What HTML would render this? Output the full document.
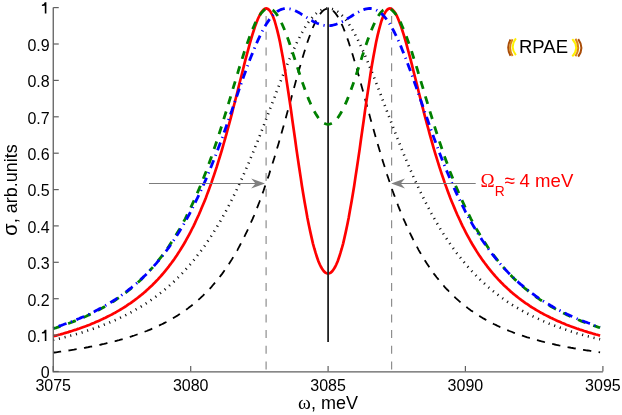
<!DOCTYPE html>
<html><head><meta charset="utf-8"><style>
html,body{margin:0;padding:0;background:#fff;}
body{width:622px;height:415px;overflow:hidden;}
svg{display:block;will-change:transform;}
text{font-family:"Liberation Sans",sans-serif;}
</style></head><body>
<svg width="622" height="415" viewBox="0 0 622 415">
<rect width="622" height="415" fill="#fff"/>
<line x1="266.1" y1="369.5" x2="266.1" y2="7.6" stroke="#8e8e8e" stroke-width="1.2" stroke-dasharray="8 7.7"/>
<line x1="391.6" y1="369.5" x2="391.6" y2="7.6" stroke="#8e8e8e" stroke-width="1.2" stroke-dasharray="8 7.7"/>
<path d="M53.2,352.7 L54.6,352.5 L56.0,352.3 L57.4,352.1 L58.7,351.9 L60.1,351.7 L61.5,351.5 L62.9,351.3 L64.2,351.1 L65.6,350.9 L67.0,350.7 L68.4,350.5 L69.7,350.3 L71.1,350.1 L72.5,349.9 L73.9,349.7 L75.2,349.4 L76.6,349.2 L78.0,349.0 L79.4,348.8 L80.7,348.5 L82.1,348.3 L83.5,348.0 L84.9,347.8 L86.2,347.5 L87.6,347.3 L89.0,347.0 L90.3,346.7 L91.7,346.5 L93.1,346.2 L94.5,345.9 L95.8,345.6 L97.2,345.4 L98.6,345.1 L100.0,344.8 L101.3,344.5 L102.7,344.2 L104.1,343.9 L105.5,343.5 L106.8,343.2 L108.2,342.9 L109.6,342.6 L111.0,342.2 L112.3,341.9 L113.7,341.5 L115.1,341.2 L116.5,340.8 L117.8,340.4 L119.2,340.1 L120.6,339.7 L122.0,339.3 L123.3,338.9 L124.7,338.5 L126.1,338.1 L127.4,337.7 L128.8,337.3 L130.2,336.8 L131.6,336.4 L132.9,335.9 L134.3,335.5 L135.7,335.0 L137.1,334.5 L138.4,334.1 L139.8,333.6 L141.2,333.1 L142.6,332.6 L143.9,332.0 L145.3,331.5 L146.7,331.0 L148.1,330.4 L149.4,329.9 L150.8,329.3 L152.2,328.7 L153.6,328.1 L154.9,327.5 L156.3,326.9 L157.7,326.2 L159.0,325.6 L160.4,324.9 L161.8,324.3 L163.2,323.6 L164.5,322.9 L165.9,322.2 L167.3,321.4 L168.7,320.7 L170.0,319.9 L171.4,319.1 L172.8,318.4 L174.2,317.5 L175.5,316.7 L176.9,315.9 L178.3,315.0 L179.7,314.1 L181.0,313.2 L182.4,312.3 L183.8,311.3 L185.2,310.4 L186.5,309.4 L187.9,308.4 L189.3,307.3 L190.7,306.3 L192.0,305.2 L193.4,304.1 L194.8,303.0 L196.1,301.8 L197.5,300.6 L198.9,299.4 L200.3,298.2 L201.6,296.9 L203.0,295.6 L204.4,294.2 L205.8,292.9 L207.1,291.5 L208.5,290.0 L209.9,288.6 L211.3,287.1 L212.6,285.5 L214.0,283.9 L215.4,282.3 L216.8,280.7 L218.1,278.9 L219.5,277.2 L220.9,275.4 L222.3,273.6 L223.6,271.7 L225.0,269.8 L226.4,267.8 L227.7,265.8 L229.1,263.7 L230.5,261.6 L231.9,259.4 L233.2,257.1 L234.6,254.8 L236.0,252.5 L237.4,250.1 L238.7,247.6 L240.1,245.0 L241.5,242.4 L242.9,239.7 L244.2,237.0 L245.6,234.2 L247.0,231.3 L248.4,228.4 L249.7,225.3 L251.1,222.2 L252.5,219.1 L253.9,215.8 L255.2,212.5 L256.6,209.1 L258.0,205.6 L259.4,202.0 L260.7,198.3 L262.1,194.6 L263.5,190.8 L264.8,186.9 L266.2,182.9 L267.6,178.8 L269.0,174.7 L270.3,170.4 L271.7,166.1 L273.1,161.7 L274.5,157.3 L275.8,152.7 L277.2,148.1 L278.6,143.5 L280.0,138.7 L281.3,133.9 L282.7,129.1 L284.1,124.2 L285.5,119.2 L286.8,114.2 L288.2,109.2 L289.6,104.2 L291.0,99.2 L292.3,94.1 L293.7,89.1 L295.1,84.1 L296.4,79.1 L297.8,74.2 L299.2,69.3 L300.6,64.6 L301.9,59.9 L303.3,55.3 L304.7,50.8 L306.1,46.5 L307.4,42.3 L308.8,38.3 L310.2,34.5 L311.6,30.9 L312.9,27.5 L314.3,24.4 L315.7,21.5 L317.1,18.8 L318.4,16.5 L319.8,14.4 L321.2,12.6 L322.6,11.1 L323.9,10.0 L325.3,9.2 L326.7,8.7 L328.1,8.5 L329.4,8.7 L330.8,9.2 L332.2,10.0 L333.5,11.1 L334.9,12.6 L336.3,14.4 L337.7,16.5 L339.0,18.8 L340.4,21.5 L341.8,24.4 L343.2,27.5 L344.5,30.9 L345.9,34.5 L347.3,38.3 L348.7,42.3 L350.0,46.5 L351.4,50.8 L352.8,55.3 L354.2,59.9 L355.5,64.6 L356.9,69.3 L358.3,74.2 L359.7,79.1 L361.0,84.1 L362.4,89.1 L363.8,94.1 L365.1,99.2 L366.5,104.2 L367.9,109.2 L369.3,114.2 L370.6,119.2 L372.0,124.2 L373.4,129.1 L374.8,133.9 L376.1,138.7 L377.5,143.5 L378.9,148.1 L380.3,152.7 L381.6,157.3 L383.0,161.7 L384.4,166.1 L385.8,170.4 L387.1,174.7 L388.5,178.8 L389.9,182.9 L391.3,186.9 L392.6,190.8 L394.0,194.6 L395.4,198.3 L396.8,202.0 L398.1,205.6 L399.5,209.1 L400.9,212.5 L402.2,215.8 L403.6,219.1 L405.0,222.2 L406.4,225.3 L407.7,228.4 L409.1,231.3 L410.5,234.2 L411.9,237.0 L413.2,239.7 L414.6,242.4 L416.0,245.0 L417.4,247.6 L418.7,250.1 L420.1,252.5 L421.5,254.8 L422.9,257.1 L424.2,259.4 L425.6,261.6 L427.0,263.7 L428.4,265.8 L429.7,267.8 L431.1,269.8 L432.5,271.7 L433.8,273.6 L435.2,275.4 L436.6,277.2 L438.0,278.9 L439.3,280.7 L440.7,282.3 L442.1,283.9 L443.5,285.5 L444.8,287.1 L446.2,288.6 L447.6,290.0 L449.0,291.5 L450.3,292.9 L451.7,294.2 L453.1,295.6 L454.5,296.9 L455.8,298.2 L457.2,299.4 L458.6,300.6 L460.0,301.8 L461.3,303.0 L462.7,304.1 L464.1,305.2 L465.4,306.3 L466.8,307.3 L468.2,308.4 L469.6,309.4 L470.9,310.4 L472.3,311.3 L473.7,312.3 L475.1,313.2 L476.4,314.1 L477.8,315.0 L479.2,315.9 L480.6,316.7 L481.9,317.5 L483.3,318.4 L484.7,319.1 L486.1,319.9 L487.4,320.7 L488.8,321.4 L490.2,322.2 L491.6,322.9 L492.9,323.6 L494.3,324.3 L495.7,324.9 L497.1,325.6 L498.4,326.2 L499.8,326.9 L501.2,327.5 L502.5,328.1 L503.9,328.7 L505.3,329.3 L506.7,329.9 L508.0,330.4 L509.4,331.0 L510.8,331.5 L512.2,332.0 L513.5,332.6 L514.9,333.1 L516.3,333.6 L517.7,334.1 L519.0,334.5 L520.4,335.0 L521.8,335.5 L523.2,335.9 L524.5,336.4 L525.9,336.8 L527.3,337.3 L528.7,337.7 L530.0,338.1 L531.4,338.5 L532.8,338.9 L534.2,339.3 L535.5,339.7 L536.9,340.1 L538.3,340.4 L539.6,340.8 L541.0,341.2 L542.4,341.5 L543.8,341.9 L545.1,342.2 L546.5,342.6 L547.9,342.9 L549.3,343.2 L550.6,343.5 L552.0,343.9 L553.4,344.2 L554.8,344.5 L556.1,344.8 L557.5,345.1 L558.9,345.4 L560.3,345.6 L561.6,345.9 L563.0,346.2 L564.4,346.5 L565.8,346.7 L567.1,347.0 L568.5,347.3 L569.9,347.5 L571.2,347.8 L572.6,348.0 L574.0,348.3 L575.4,348.5 L576.7,348.8 L578.1,349.0 L579.5,349.2 L580.9,349.4 L582.2,349.7 L583.6,349.9 L585.0,350.1 L586.4,350.3 L587.7,350.5 L589.1,350.7 L590.5,350.9 L591.9,351.1 L593.2,351.3 L594.6,351.5 L596.0,351.7 L597.4,351.9 L598.7,352.1 L600.1,352.3" fill="none" stroke="#000" stroke-width="1.8" stroke-dasharray="8.3 7.415" stroke-dashoffset="0.29"/>
<path d="M53.2,340.0 L54.6,339.7 L56.0,339.3 L57.4,339.0 L58.7,338.7 L60.1,338.4 L61.5,338.0 L62.9,337.7 L64.2,337.3 L65.6,337.0 L67.0,336.6 L68.4,336.3 L69.7,335.9 L71.1,335.5 L72.5,335.2 L73.9,334.8 L75.2,334.4 L76.6,334.0 L78.0,333.6 L79.4,333.2 L80.7,332.8 L82.1,332.4 L83.5,331.9 L84.9,331.5 L86.2,331.1 L87.6,330.6 L89.0,330.2 L90.3,329.7 L91.7,329.3 L93.1,328.8 L94.5,328.3 L95.8,327.8 L97.2,327.3 L98.6,326.8 L100.0,326.3 L101.3,325.8 L102.7,325.3 L104.1,324.7 L105.5,324.2 L106.8,323.7 L108.2,323.1 L109.6,322.5 L111.0,321.9 L112.3,321.4 L113.7,320.8 L115.1,320.2 L116.5,319.5 L117.8,318.9 L119.2,318.3 L120.6,317.6 L122.0,317.0 L123.3,316.3 L124.7,315.6 L126.1,314.9 L127.4,314.2 L128.8,313.5 L130.2,312.8 L131.6,312.0 L132.9,311.3 L134.3,310.5 L135.7,309.7 L137.1,308.9 L138.4,308.1 L139.8,307.3 L141.2,306.5 L142.6,305.6 L143.9,304.8 L145.3,303.9 L146.7,303.0 L148.1,302.1 L149.4,301.2 L150.8,300.2 L152.2,299.3 L153.6,298.3 L154.9,297.3 L156.3,296.3 L157.7,295.2 L159.0,294.2 L160.4,293.1 L161.8,292.0 L163.2,290.9 L164.5,289.8 L165.9,288.6 L167.3,287.5 L168.7,286.3 L170.0,285.1 L171.4,283.8 L172.8,282.6 L174.2,281.3 L175.5,280.0 L176.9,278.6 L178.3,277.3 L179.7,275.9 L181.0,274.5 L182.4,273.1 L183.8,271.6 L185.2,270.1 L186.5,268.6 L187.9,267.1 L189.3,265.5 L190.7,263.9 L192.0,262.3 L193.4,260.6 L194.8,258.9 L196.1,257.2 L197.5,255.4 L198.9,253.7 L200.3,251.8 L201.6,250.0 L203.0,248.1 L204.4,246.2 L205.8,244.2 L207.1,242.2 L208.5,240.2 L209.9,238.1 L211.3,236.0 L212.6,233.9 L214.0,231.7 L215.4,229.5 L216.8,227.2 L218.1,224.9 L219.5,222.6 L220.9,220.2 L222.3,217.7 L223.6,215.3 L225.0,212.8 L226.4,210.2 L227.7,207.6 L229.1,205.0 L230.5,202.3 L231.9,199.6 L233.2,196.8 L234.6,194.0 L236.0,191.2 L237.4,188.3 L238.7,185.4 L240.1,182.4 L241.5,179.4 L242.9,176.3 L244.2,173.2 L245.6,170.1 L247.0,166.9 L248.4,163.7 L249.7,160.4 L251.1,157.1 L252.5,153.8 L253.9,150.5 L255.2,147.1 L256.6,143.6 L258.0,140.2 L259.4,136.7 L260.7,133.2 L262.1,129.7 L263.5,126.1 L264.8,122.5 L266.2,118.9 L267.6,115.3 L269.0,111.7 L270.3,108.1 L271.7,104.5 L273.1,100.9 L274.5,97.3 L275.8,93.6 L277.2,90.0 L278.6,86.5 L280.0,82.9 L281.3,79.4 L282.7,75.9 L284.1,72.4 L285.5,69.0 L286.8,65.6 L288.2,62.2 L289.6,58.9 L291.0,55.7 L292.3,52.6 L293.7,49.5 L295.1,46.5 L296.4,43.5 L297.8,40.7 L299.2,38.0 L300.6,35.3 L301.9,32.8 L303.3,30.3 L304.7,28.0 L306.1,25.8 L307.4,23.7 L308.8,21.7 L310.2,19.9 L311.6,18.2 L312.9,16.6 L314.3,15.2 L315.7,13.9 L317.1,12.7 L318.4,11.7 L319.8,10.8 L321.2,10.1 L322.6,9.5 L323.9,9.1 L325.3,8.7 L326.7,8.6 L328.1,8.5 L329.4,8.6 L330.8,8.7 L332.2,9.1 L333.5,9.5 L334.9,10.1 L336.3,10.8 L337.7,11.7 L339.0,12.7 L340.4,13.9 L341.8,15.2 L343.2,16.6 L344.5,18.2 L345.9,19.9 L347.3,21.7 L348.7,23.7 L350.0,25.8 L351.4,28.0 L352.8,30.3 L354.2,32.8 L355.5,35.3 L356.9,38.0 L358.3,40.7 L359.7,43.5 L361.0,46.5 L362.4,49.5 L363.8,52.6 L365.1,55.7 L366.5,58.9 L367.9,62.2 L369.3,65.6 L370.6,69.0 L372.0,72.4 L373.4,75.9 L374.8,79.4 L376.1,82.9 L377.5,86.5 L378.9,90.0 L380.3,93.6 L381.6,97.3 L383.0,100.9 L384.4,104.5 L385.8,108.1 L387.1,111.7 L388.5,115.3 L389.9,118.9 L391.3,122.5 L392.6,126.1 L394.0,129.7 L395.4,133.2 L396.8,136.7 L398.1,140.2 L399.5,143.6 L400.9,147.1 L402.2,150.5 L403.6,153.8 L405.0,157.1 L406.4,160.4 L407.7,163.7 L409.1,166.9 L410.5,170.1 L411.9,173.2 L413.2,176.3 L414.6,179.4 L416.0,182.4 L417.4,185.4 L418.7,188.3 L420.1,191.2 L421.5,194.0 L422.9,196.8 L424.2,199.6 L425.6,202.3 L427.0,205.0 L428.4,207.6 L429.7,210.2 L431.1,212.8 L432.5,215.3 L433.8,217.7 L435.2,220.2 L436.6,222.6 L438.0,224.9 L439.3,227.2 L440.7,229.5 L442.1,231.7 L443.5,233.9 L444.8,236.0 L446.2,238.1 L447.6,240.2 L449.0,242.2 L450.3,244.2 L451.7,246.2 L453.1,248.1 L454.5,250.0 L455.8,251.8 L457.2,253.7 L458.6,255.4 L460.0,257.2 L461.3,258.9 L462.7,260.6 L464.1,262.3 L465.4,263.9 L466.8,265.5 L468.2,267.1 L469.6,268.6 L470.9,270.1 L472.3,271.6 L473.7,273.1 L475.1,274.5 L476.4,275.9 L477.8,277.3 L479.2,278.6 L480.6,280.0 L481.9,281.3 L483.3,282.6 L484.7,283.8 L486.1,285.1 L487.4,286.3 L488.8,287.5 L490.2,288.6 L491.6,289.8 L492.9,290.9 L494.3,292.0 L495.7,293.1 L497.1,294.2 L498.4,295.2 L499.8,296.3 L501.2,297.3 L502.5,298.3 L503.9,299.3 L505.3,300.2 L506.7,301.2 L508.0,302.1 L509.4,303.0 L510.8,303.9 L512.2,304.8 L513.5,305.6 L514.9,306.5 L516.3,307.3 L517.7,308.1 L519.0,308.9 L520.4,309.7 L521.8,310.5 L523.2,311.3 L524.5,312.0 L525.9,312.8 L527.3,313.5 L528.7,314.2 L530.0,314.9 L531.4,315.6 L532.8,316.3 L534.2,317.0 L535.5,317.6 L536.9,318.3 L538.3,318.9 L539.6,319.5 L541.0,320.2 L542.4,320.8 L543.8,321.4 L545.1,321.9 L546.5,322.5 L547.9,323.1 L549.3,323.7 L550.6,324.2 L552.0,324.7 L553.4,325.3 L554.8,325.8 L556.1,326.3 L557.5,326.8 L558.9,327.3 L560.3,327.8 L561.6,328.3 L563.0,328.8 L564.4,329.3 L565.8,329.7 L567.1,330.2 L568.5,330.6 L569.9,331.1 L571.2,331.5 L572.6,331.9 L574.0,332.4 L575.4,332.8 L576.7,333.2 L578.1,333.6 L579.5,334.0 L580.9,334.4 L582.2,334.8 L583.6,335.2 L585.0,335.5 L586.4,335.9 L587.7,336.3 L589.1,336.6 L590.5,337.0 L591.9,337.3 L593.2,337.7 L594.6,338.0 L596.0,338.4 L597.4,338.7 L598.7,339.0 L600.1,339.3" fill="none" stroke="#111" stroke-width="2.6" stroke-dasharray="1.1 4.786" stroke-dashoffset="0.09"/>
<path d="M53.2,336.3 L54.6,335.9 L56.0,335.6 L57.4,335.2 L58.7,334.8 L60.1,334.5 L61.5,334.1 L62.9,333.7 L64.2,333.3 L65.6,332.9 L67.0,332.5 L68.4,332.1 L69.7,331.6 L71.1,331.2 L72.5,330.8 L73.9,330.3 L75.2,329.9 L76.6,329.4 L78.0,328.9 L79.4,328.5 L80.7,328.0 L82.1,327.5 L83.5,327.0 L84.9,326.5 L86.2,326.0 L87.6,325.4 L89.0,324.9 L90.3,324.4 L91.7,323.8 L93.1,323.2 L94.5,322.7 L95.8,322.1 L97.2,321.5 L98.6,320.9 L100.0,320.3 L101.3,319.6 L102.7,319.0 L104.1,318.3 L105.5,317.7 L106.8,317.0 L108.2,316.3 L109.6,315.6 L111.0,314.9 L112.3,314.2 L113.7,313.4 L115.1,312.7 L116.5,311.9 L117.8,311.1 L119.2,310.3 L120.6,309.5 L122.0,308.7 L123.3,307.8 L124.7,307.0 L126.1,306.1 L127.4,305.2 L128.8,304.2 L130.2,303.3 L131.6,302.3 L132.9,301.4 L134.3,300.4 L135.7,299.3 L137.1,298.3 L138.4,297.2 L139.8,296.1 L141.2,295.0 L142.6,293.9 L143.9,292.7 L145.3,291.6 L146.7,290.3 L148.1,289.1 L149.4,287.8 L150.8,286.5 L152.2,285.2 L153.6,283.8 L154.9,282.5 L156.3,281.0 L157.7,279.6 L159.0,278.1 L160.4,276.6 L161.8,275.0 L163.2,273.4 L164.5,271.8 L165.9,270.1 L167.3,268.4 L168.7,266.6 L170.0,264.8 L171.4,263.0 L172.8,261.1 L174.2,259.2 L175.5,257.2 L176.9,255.2 L178.3,253.1 L179.7,250.9 L181.0,248.7 L182.4,246.5 L183.8,244.2 L185.2,241.8 L186.5,239.4 L187.9,236.9 L189.3,234.3 L190.7,231.7 L192.0,229.0 L193.4,226.3 L194.8,223.4 L196.1,220.5 L197.5,217.5 L198.9,214.5 L200.3,211.3 L201.6,208.1 L203.0,204.8 L204.4,201.4 L205.8,197.9 L207.1,194.4 L208.5,190.7 L209.9,186.9 L211.3,183.1 L212.6,179.1 L214.0,175.1 L215.4,170.9 L216.8,166.7 L218.1,162.4 L219.5,157.9 L220.9,153.4 L222.3,148.7 L223.6,144.0 L225.0,139.2 L226.4,134.2 L227.7,129.2 L229.1,124.1 L230.5,118.9 L231.9,113.7 L233.2,108.3 L234.6,103.0 L236.0,97.5 L237.4,92.0 L238.7,86.5 L240.1,81.0 L241.5,75.5 L242.9,70.0 L244.2,64.6 L245.6,59.2 L247.0,54.0 L248.4,48.8 L249.7,43.8 L251.1,39.0 L252.5,34.3 L253.9,30.0 L255.2,25.9 L256.6,22.2 L258.0,18.8 L259.4,15.8 L260.7,13.3 L262.1,11.3 L263.5,9.8 L264.8,8.8 L266.2,8.5 L267.6,8.8 L269.0,9.8 L270.3,11.4 L271.7,13.8 L273.1,16.8 L274.5,20.5 L275.8,25.0 L277.2,30.1 L278.6,35.9 L280.0,42.3 L281.3,49.3 L282.7,56.8 L284.1,64.8 L285.5,73.2 L286.8,82.1 L288.2,91.2 L289.6,100.6 L291.0,110.1 L292.3,119.8 L293.7,129.5 L295.1,139.2 L296.4,148.9 L297.8,158.4 L299.2,167.7 L300.6,176.9 L301.9,185.7 L303.3,194.3 L304.7,202.5 L306.1,210.3 L307.4,217.8 L308.8,224.8 L310.2,231.4 L311.6,237.6 L312.9,243.3 L314.3,248.5 L315.7,253.2 L317.1,257.5 L318.4,261.3 L319.8,264.5 L321.2,267.3 L322.6,269.6 L323.9,271.3 L325.3,272.6 L326.7,273.3 L328.1,273.6 L329.4,273.3 L330.8,272.6 L332.2,271.3 L333.5,269.6 L334.9,267.3 L336.3,264.5 L337.7,261.3 L339.0,257.5 L340.4,253.2 L341.8,248.5 L343.2,243.3 L344.5,237.6 L345.9,231.4 L347.3,224.8 L348.7,217.8 L350.0,210.3 L351.4,202.5 L352.8,194.3 L354.2,185.7 L355.5,176.9 L356.9,167.7 L358.3,158.4 L359.7,148.9 L361.0,139.2 L362.4,129.5 L363.8,119.8 L365.1,110.1 L366.5,100.6 L367.9,91.2 L369.3,82.1 L370.6,73.2 L372.0,64.8 L373.4,56.8 L374.8,49.3 L376.1,42.3 L377.5,35.9 L378.9,30.1 L380.3,25.0 L381.6,20.5 L383.0,16.8 L384.4,13.8 L385.8,11.4 L387.1,9.8 L388.5,8.8 L389.9,8.5 L391.3,8.8 L392.6,9.8 L394.0,11.3 L395.4,13.3 L396.8,15.8 L398.1,18.8 L399.5,22.2 L400.9,25.9 L402.2,30.0 L403.6,34.3 L405.0,39.0 L406.4,43.8 L407.7,48.8 L409.1,54.0 L410.5,59.2 L411.9,64.6 L413.2,70.0 L414.6,75.5 L416.0,81.0 L417.4,86.5 L418.7,92.0 L420.1,97.5 L421.5,103.0 L422.9,108.3 L424.2,113.7 L425.6,118.9 L427.0,124.1 L428.4,129.2 L429.7,134.2 L431.1,139.2 L432.5,144.0 L433.8,148.7 L435.2,153.4 L436.6,157.9 L438.0,162.4 L439.3,166.7 L440.7,170.9 L442.1,175.1 L443.5,179.1 L444.8,183.1 L446.2,186.9 L447.6,190.7 L449.0,194.4 L450.3,197.9 L451.7,201.4 L453.1,204.8 L454.5,208.1 L455.8,211.3 L457.2,214.5 L458.6,217.5 L460.0,220.5 L461.3,223.4 L462.7,226.3 L464.1,229.0 L465.4,231.7 L466.8,234.3 L468.2,236.9 L469.6,239.4 L470.9,241.8 L472.3,244.2 L473.7,246.5 L475.1,248.7 L476.4,250.9 L477.8,253.1 L479.2,255.2 L480.6,257.2 L481.9,259.2 L483.3,261.1 L484.7,263.0 L486.1,264.8 L487.4,266.6 L488.8,268.4 L490.2,270.1 L491.6,271.8 L492.9,273.4 L494.3,275.0 L495.7,276.6 L497.1,278.1 L498.4,279.6 L499.8,281.0 L501.2,282.5 L502.5,283.8 L503.9,285.2 L505.3,286.5 L506.7,287.8 L508.0,289.1 L509.4,290.3 L510.8,291.6 L512.2,292.7 L513.5,293.9 L514.9,295.0 L516.3,296.1 L517.7,297.2 L519.0,298.3 L520.4,299.3 L521.8,300.4 L523.2,301.4 L524.5,302.3 L525.9,303.3 L527.3,304.2 L528.7,305.2 L530.0,306.1 L531.4,307.0 L532.8,307.8 L534.2,308.7 L535.5,309.5 L536.9,310.3 L538.3,311.1 L539.6,311.9 L541.0,312.7 L542.4,313.4 L543.8,314.2 L545.1,314.9 L546.5,315.6 L547.9,316.3 L549.3,317.0 L550.6,317.7 L552.0,318.3 L553.4,319.0 L554.8,319.6 L556.1,320.3 L557.5,320.9 L558.9,321.5 L560.3,322.1 L561.6,322.7 L563.0,323.2 L564.4,323.8 L565.8,324.4 L567.1,324.9 L568.5,325.4 L569.9,326.0 L571.2,326.5 L572.6,327.0 L574.0,327.5 L575.4,328.0 L576.7,328.5 L578.1,328.9 L579.5,329.4 L580.9,329.9 L582.2,330.3 L583.6,330.8 L585.0,331.2 L586.4,331.6 L587.7,332.1 L589.1,332.5 L590.5,332.9 L591.9,333.3 L593.2,333.7 L594.6,334.1 L596.0,334.5 L597.4,334.8 L598.7,335.2 L600.1,335.6" fill="none" stroke="#ff0000" stroke-width="2.7"/>
<line x1="328.1" y1="342.0" x2="328.1" y2="7.6" stroke="#222" stroke-width="1.8"/>
<path d="M53.2,328.7 L54.6,328.2 L56.0,327.8 L57.4,327.3 L58.7,326.9 L60.1,326.4 L61.5,326.0 L62.9,325.5 L64.2,325.0 L65.6,324.5 L67.0,324.0 L68.4,323.5 L69.7,323.0 L71.1,322.5 L72.5,322.0 L73.9,321.4 L75.2,320.9 L76.6,320.3 L78.0,319.8 L79.4,319.2 L80.7,318.6 L82.1,318.0 L83.5,317.4 L84.9,316.8 L86.2,316.2 L87.6,315.5 L89.0,314.9 L90.3,314.2 L91.7,313.6 L93.1,312.9 L94.5,312.2 L95.8,311.5 L97.2,310.8 L98.6,310.1 L100.0,309.3 L101.3,308.6 L102.7,307.8 L104.1,307.0 L105.5,306.2 L106.8,305.4 L108.2,304.6 L109.6,303.8 L111.0,302.9 L112.3,302.0 L113.7,301.2 L115.1,300.3 L116.5,299.3 L117.8,298.4 L119.2,297.5 L120.6,296.5 L122.0,295.5 L123.3,294.5 L124.7,293.5 L126.1,292.4 L127.4,291.3 L128.8,290.2 L130.2,289.1 L131.6,288.0 L132.9,286.8 L134.3,285.7 L135.7,284.4 L137.1,283.2 L138.4,282.0 L139.8,280.7 L141.2,279.4 L142.6,278.0 L143.9,276.7 L145.3,275.3 L146.7,273.9 L148.1,272.4 L149.4,270.9" fill="none" stroke="#008000" stroke-width="2.8" stroke-dasharray="8.2 8.1" stroke-dashoffset="0.51"/>
<path d="M149.4,270.9 L150.8,269.4 L152.2,267.9 L153.6,266.3 L154.9,264.7 L156.3,263.1 L157.7,261.4 L159.0,259.7 L160.4,257.9 L161.8,256.1 L163.2,254.3 L164.5,252.4 L165.9,250.5 L167.3,248.6 L168.7,246.6 L170.0,244.5 L171.4,242.4 L172.8,240.3 L174.2,238.1 L175.5,235.9 L176.9,233.6 L178.3,231.3 L179.7,228.9 L181.0,226.4 L182.4,223.9 L183.8,221.4 L185.2,218.8 L186.5,216.1 L187.9,213.4 L189.3,210.6 L190.6,207.8 L192.0,204.9 L193.4,201.9 L194.8,198.9 L196.1,195.8 L197.5,192.6 L198.9,189.4 L200.3,186.1 L201.6,182.7 L203.0,179.3 L204.4,175.7 L205.8,172.2 L207.1,168.5 L208.5,164.8 L209.9,161.0 L211.3,157.2 L212.6,153.2 L214.0,149.3 L215.4,145.2 L216.8,141.1 L218.1,136.9 L219.5,132.7 L220.9,128.4 L222.3,124.0 L223.6,119.6 L225.0,115.2 L226.4,110.7 L227.7,106.2 L229.1,101.6 L230.5,97.1 L231.9,92.5 L233.2,87.9 L234.6,83.3 L236.0,78.7 L237.4,74.2 L238.7,69.7 L240.1,65.2 L241.5,60.8 L242.9,56.5 L244.2,52.2 L245.6,48.1 L247.0,44.0 L248.4,40.1 L249.7,36.4 L251.1,32.8 L252.5,29.4 L253.9,26.2 L255.2,23.2 L256.6,20.5 L258.0,18.0 L259.4,15.8 L260.7,13.8 L262.1,12.1 L263.5,10.8 L264.8,9.7 L266.2,9.0 L267.6,8.6 L269.0,8.5 L270.3,8.8 L271.7,9.4 L273.1,10.3 L274.5,11.6 L275.8,13.2 L277.2,15.1 L278.6,17.3 L280.0,19.7 L281.3,22.5 L282.7,25.5 L284.1,28.7 L285.5,32.1 L286.8,35.8 L288.2,39.5 L289.6,43.5 L291.0,47.5 L292.3,51.6 L293.7,55.8 L295.1,60.1 L296.4,64.3 L297.8,68.5 L299.2,72.7 L300.6,76.9 L301.9,81.0 L303.3,84.9 L304.7,88.8 L306.1,92.6 L307.4,96.1 L308.8,99.6 L310.2,102.8 L311.6,105.9 L312.9,108.7 L314.3,111.3 L315.7,113.8 L317.1,115.9 L318.4,117.9 L319.8,119.6 L321.2,121.0 L322.6,122.2 L323.9,123.1 L325.3,123.8 L326.7,124.2 L328.0,124.3 L329.4,124.2 L330.8,123.8 L332.2,123.1 L333.5,122.2 L334.9,121.0 L336.3,119.6 L337.7,117.9 L339.0,115.9 L340.4,113.8 L341.8,111.3 L343.2,108.7 L344.5,105.9 L345.9,102.8 L347.3,99.6 L348.7,96.1 L350.0,92.6 L351.4,88.8 L352.8,84.9 L354.2,81.0 L355.5,76.9 L356.9,72.7 L358.3,68.5 L359.7,64.3 L361.0,60.1 L362.4,55.8 L363.8,51.6 L365.1,47.5 L366.5,43.5 L367.9,39.5 L369.3,35.8 L370.6,32.1 L372.0,28.7 L373.4,25.5 L374.8,22.5 L376.1,19.7 L377.5,17.3 L378.9,15.1 L380.3,13.2 L381.6,11.6 L383.0,10.3 L384.4,9.4 L385.8,8.8 L387.1,8.5 L388.5,8.6 L389.9,9.0 L391.3,9.7 L392.6,10.8 L394.0,12.1 L395.4,13.8 L396.8,15.8 L398.1,18.0 L399.5,20.5 L400.9,23.2 L402.2,26.2 L403.6,29.4 L405.0,32.8 L406.4,36.4 L407.7,40.1 L409.1,44.0 L410.5,48.1 L411.9,52.2 L413.2,56.5 L414.6,60.8 L416.0,65.2 L417.4,69.7 L418.7,74.2 L420.1,78.7 L421.5,83.3 L422.9,87.9 L424.2,92.5 L425.6,97.1 L427.0,101.6 L428.4,106.2 L429.7,110.7 L431.1,115.2 L432.5,119.6 L433.8,124.0 L435.2,128.4 L436.6,132.7 L438.0,136.9 L439.3,141.1 L440.7,145.2 L442.1,149.3 L443.5,153.2 L444.8,157.2 L446.2,161.0 L447.6,164.8 L449.0,168.5 L450.3,172.2 L451.7,175.7 L453.1,179.3 L454.5,182.7 L455.8,186.1 L457.2,189.4 L458.6,192.6 L460.0,195.8 L461.3,198.9 L462.7,201.9 L464.1,204.9 L465.4,207.8 L466.8,210.6 L468.2,213.4 L469.6,216.1 L470.9,218.8 L472.3,221.4 L473.7,223.9 L475.1,226.4 L476.4,228.9 L477.8,231.3 L479.2,233.6 L480.6,235.9 L481.9,238.1 L483.3,240.3 L484.7,242.4 L486.1,244.5 L487.4,246.6 L488.8,248.6 L490.2,250.5 L491.6,252.4 L492.9,254.3 L494.3,256.1 L495.7,257.9 L497.1,259.7 L498.4,261.4 L499.8,263.1 L501.2,264.7 L502.5,266.3 L503.9,267.9 L505.3,269.4" fill="none" stroke="#008000" stroke-width="2.8" stroke-dasharray="8.0 7.75" stroke-dashoffset="2.79"/>
<path d="M505.3,269.4 L506.7,270.9 L508.0,272.4 L509.4,273.9 L510.8,275.3 L512.2,276.7 L513.5,278.0 L514.9,279.4 L516.3,280.7 L517.7,282.0 L519.0,283.2 L520.4,284.4 L521.8,285.7 L523.2,286.8 L524.5,288.0 L525.9,289.1 L527.3,290.2 L528.7,291.3 L530.0,292.4 L531.4,293.5 L532.8,294.5 L534.2,295.5 L535.5,296.5 L536.9,297.5 L538.3,298.4 L539.6,299.3 L541.0,300.3 L542.4,301.2 L543.8,302.0 L545.1,302.9 L546.5,303.8 L547.9,304.6 L549.3,305.4 L550.6,306.2 L552.0,307.0 L553.4,307.8 L554.8,308.6 L556.1,309.3 L557.5,310.1 L558.9,310.8 L560.3,311.5 L561.6,312.2 L563.0,312.9 L564.4,313.6 L565.8,314.2 L567.1,314.9 L568.5,315.5 L569.9,316.2 L571.2,316.8 L572.6,317.4 L574.0,318.0 L575.4,318.6 L576.7,319.2 L578.1,319.8 L579.5,320.3 L580.9,320.9 L582.2,321.4 L583.6,322.0 L585.0,322.5 L586.4,323.0 L587.7,323.5 L589.1,324.0 L590.5,324.5 L591.9,325.0 L593.2,325.5 L594.6,326.0 L596.0,326.4 L597.4,326.9 L598.7,327.3 L600.1,327.8" fill="none" stroke="#008000" stroke-width="2.8" stroke-dasharray="8.2 8.1" stroke-dashoffset="8.60"/>
<path d="M53.2,328.0 L54.6,327.5 L56.0,327.1 L57.4,326.7 L58.7,326.2 L60.1,325.7 L61.5,325.3 L62.9,324.8 L64.2,324.3 L65.6,323.8 L67.0,323.3 L68.4,322.8 L69.7,322.3 L71.1,321.8 L72.5,321.2 L73.9,320.7 L75.2,320.2 L76.6,319.6 L78.0,319.0 L79.4,318.5 L80.7,317.9 L82.1,317.3 L83.5,316.7 L84.9,316.1 L86.2,315.4 L87.6,314.8 L89.0,314.2 L90.3,313.5 L91.7,312.8 L93.1,312.2 L94.5,311.5 L95.8,310.8 L97.2,310.1 L98.6,309.3 L100.0,308.6 L101.3,307.9 L102.7,307.1 L104.1,306.3 L105.5,305.5 L106.8,304.7 L108.2,303.9 L109.6,303.1 L111.0,302.2 L112.3,301.4 L113.7,300.5 L115.1,299.6 L116.5,298.7 L117.8,297.8 L119.2,296.8 L120.6,295.9 L122.0,294.9 L123.3,293.9 L124.7,292.9 L126.1,291.9 L127.4,290.8 L128.8,289.7 L130.2,288.6 L131.6,287.5 L132.9,286.4 L134.3,285.2 L135.7,284.1 L137.1,282.9 L138.4,281.6 L139.8,280.4 L141.2,279.1 L142.6,277.8 L143.9,276.5 L145.3,275.2 L146.7,273.8 L148.1,272.4 L149.4,270.9 L150.8,269.5 L152.2,268.0 L153.6,266.5 L154.9,264.9 L156.3,263.4 L157.7,261.7 L159.0,260.1 L160.4,258.4 L161.8,256.7 L163.2,255.0 L164.5,253.2 L165.9,251.4 L167.3,249.5 L168.7,247.6 L170.0,245.7 L171.4,243.7 L172.8,241.7 L174.2,239.7 L175.5,237.6 L176.9,235.4 L178.3,233.3 L179.7,231.0 L181.0,228.8 L182.4,226.5 L183.8,224.1 L185.2,221.7 L186.5,219.2 L187.9,216.7 L189.3,214.2 L190.7,211.6 L192.0,208.9 L193.4,206.2 L194.8,203.5 L196.1,200.7 L197.5,197.8 L198.9,194.9 L200.3,191.9 L201.6,188.9 L203.0,185.9 L204.4,182.7 L205.8,179.6 L207.1,176.3 L208.5,173.0 L209.9,169.7 L211.3,166.3 L212.6,162.9 L214.0,159.4 L215.4,155.9 L216.8,152.3 L218.1,148.7 L219.5,145.0 L220.9,141.3 L222.3,137.5 L223.6,133.7 L225.0,129.9 L226.4,126.0 L227.7,122.2 L229.1,118.3 L230.5,114.3 L231.9,110.4 L233.2,106.4 L234.6,102.5 L236.0,98.5 L237.4,94.5 L238.7,90.6 L240.1,86.6 L241.5,82.7 L242.9,78.8 L244.2,75.0 L245.6,71.2 L247.0,67.4 L248.4,63.7 L249.7,60.1 L251.1,56.5 L252.5,53.1 L253.9,49.7 L255.2,46.4 L256.6,43.2 L258.0,40.1 L259.4,37.1 L260.7,34.3 L262.1,31.5 L263.5,29.0 L264.8,26.5 L266.2,24.2 L267.6,22.1 L269.0,20.1 L270.3,18.3 L271.7,16.6 L273.1,15.1 L274.5,13.8 L275.8,12.6 L277.2,11.5 L278.6,10.7 L280.0,9.9 L281.3,9.4 L282.7,9.0 L284.1,8.7 L285.5,8.5 L286.8,8.5 L288.2,8.6 L289.6,8.8 L291.0,9.2 L292.3,9.6 L293.7,10.1 L295.1,10.7 L296.4,11.3 L297.8,12.1 L299.2,12.8 L300.6,13.6 L301.9,14.5 L303.3,15.3 L304.7,16.2 L306.1,17.1 L307.4,17.9 L308.8,18.8 L310.2,19.6 L311.6,20.4 L312.9,21.2 L314.3,21.9 L315.7,22.6 L317.1,23.2 L318.4,23.7 L319.8,24.2 L321.2,24.7 L322.6,25.0 L323.9,25.3 L325.3,25.5 L326.7,25.6 L328.1,25.6 L329.4,25.6 L330.8,25.5 L332.2,25.3 L333.5,25.0 L334.9,24.7 L336.3,24.2 L337.7,23.7 L339.0,23.2 L340.4,22.6 L341.8,21.9 L343.2,21.2 L344.5,20.4 L345.9,19.6 L347.3,18.8 L348.7,17.9 L350.0,17.1 L351.4,16.2 L352.8,15.3 L354.2,14.5 L355.5,13.6 L356.9,12.8 L358.3,12.1 L359.7,11.3 L361.0,10.7 L362.4,10.1 L363.8,9.6 L365.1,9.2 L366.5,8.8 L367.9,8.6 L369.3,8.5 L370.6,8.5 L372.0,8.7 L373.4,9.0 L374.8,9.4 L376.1,9.9 L377.5,10.7 L378.9,11.5 L380.3,12.6 L381.6,13.8 L383.0,15.1 L384.4,16.6 L385.8,18.3 L387.1,20.1 L388.5,22.1 L389.9,24.2 L391.3,26.5 L392.6,29.0 L394.0,31.5 L395.4,34.3 L396.8,37.1 L398.1,40.1 L399.5,43.2 L400.9,46.4 L402.2,49.7 L403.6,53.1 L405.0,56.5 L406.4,60.1 L407.7,63.7 L409.1,67.4 L410.5,71.2 L411.9,75.0 L413.2,78.8 L414.6,82.7 L416.0,86.6 L417.4,90.6 L418.7,94.5 L420.1,98.5 L421.5,102.5 L422.9,106.4 L424.2,110.4 L425.6,114.3 L427.0,118.3 L428.4,122.2 L429.7,126.0 L431.1,129.9 L432.5,133.7 L433.8,137.5 L435.2,141.3 L436.6,145.0 L438.0,148.7 L439.3,152.3 L440.7,155.9 L442.1,159.4 L443.5,162.9 L444.8,166.3 L446.2,169.7 L447.6,173.0 L449.0,176.3 L450.3,179.6 L451.7,182.7 L453.1,185.9 L454.5,188.9 L455.8,191.9 L457.2,194.9 L458.6,197.8 L460.0,200.7 L461.3,203.5 L462.7,206.2 L464.1,208.9 L465.4,211.6 L466.8,214.2 L468.2,216.7 L469.6,219.2 L470.9,221.7 L472.3,224.1 L473.7,226.5 L475.1,228.8 L476.4,231.0 L477.8,233.3 L479.2,235.4 L480.6,237.6 L481.9,239.7 L483.3,241.7 L484.7,243.7 L486.1,245.7 L487.4,247.6 L488.8,249.5 L490.2,251.4 L491.6,253.2 L492.9,255.0 L494.3,256.7 L495.7,258.4 L497.1,260.1 L498.4,261.7 L499.8,263.4 L501.2,264.9 L502.5,266.5 L503.9,268.0 L505.3,269.5 L506.7,270.9 L508.0,272.4 L509.4,273.8 L510.8,275.2 L512.2,276.5 L513.5,277.8 L514.9,279.1 L516.3,280.4 L517.7,281.6 L519.0,282.9 L520.4,284.1 L521.8,285.2 L523.2,286.4 L524.5,287.5 L525.9,288.6 L527.3,289.7 L528.7,290.8 L530.0,291.9 L531.4,292.9 L532.8,293.9 L534.2,294.9 L535.5,295.9 L536.9,296.8 L538.3,297.8 L539.6,298.7 L541.0,299.6 L542.4,300.5 L543.8,301.4 L545.1,302.2 L546.5,303.1 L547.9,303.9 L549.3,304.7 L550.6,305.5 L552.0,306.3 L553.4,307.1 L554.8,307.9 L556.1,308.6 L557.5,309.3 L558.9,310.1 L560.3,310.8 L561.6,311.5 L563.0,312.2 L564.4,312.8 L565.8,313.5 L567.1,314.2 L568.5,314.8 L569.9,315.4 L571.2,316.1 L572.6,316.7 L574.0,317.3 L575.4,317.9 L576.7,318.5 L578.1,319.0 L579.5,319.6 L580.9,320.2 L582.2,320.7 L583.6,321.2 L585.0,321.8 L586.4,322.3 L587.7,322.8 L589.1,323.3 L590.5,323.8 L591.9,324.3 L593.2,324.8 L594.6,325.3 L596.0,325.7 L597.4,326.2 L598.7,326.7 L600.1,327.1" fill="none" stroke="#0000ff" stroke-width="2.8" stroke-dasharray="8.4 4.7 1.2 4.7" stroke-dashoffset="13.32"/>
<path d="M53.25,7.6 L53.25,371.8 L602.9,371.8" fill="none" stroke="#606060" stroke-width="1.3"/>
<line x1="53.25" y1="371.5" x2="58.75" y2="371.5" stroke="#606060" stroke-width="1.2"/>
<text x="49.7" y="378.3" text-anchor="end" font-size="16">0</text>
<line x1="53.25" y1="335.1" x2="58.75" y2="335.1" stroke="#606060" stroke-width="1.2"/>
<text x="40.8" y="341.9" text-anchor="end" font-size="16">0.</text>
<path d="M44.80,329.81 L46.40,329.81 L46.40,341.01 L44.80,341.01 L44.80,333.21 L41.90,333.41 L41.90,332.21 Q44.20,332.01 44.80,329.81 Z" fill="#000"/>
<line x1="53.25" y1="298.7" x2="58.75" y2="298.7" stroke="#606060" stroke-width="1.2"/>
<text x="49.7" y="305.5" text-anchor="end" font-size="16">0.2</text>
<line x1="53.25" y1="262.3" x2="58.75" y2="262.3" stroke="#606060" stroke-width="1.2"/>
<text x="49.7" y="269.1" text-anchor="end" font-size="16">0.3</text>
<line x1="53.25" y1="225.9" x2="58.75" y2="225.9" stroke="#606060" stroke-width="1.2"/>
<text x="49.7" y="232.7" text-anchor="end" font-size="16">0.4</text>
<line x1="53.25" y1="189.6" x2="58.75" y2="189.6" stroke="#606060" stroke-width="1.2"/>
<text x="49.7" y="196.4" text-anchor="end" font-size="16">0.5</text>
<line x1="53.25" y1="153.2" x2="58.75" y2="153.2" stroke="#606060" stroke-width="1.2"/>
<text x="49.7" y="160.0" text-anchor="end" font-size="16">0.6</text>
<line x1="53.25" y1="116.8" x2="58.75" y2="116.8" stroke="#606060" stroke-width="1.2"/>
<text x="49.7" y="123.6" text-anchor="end" font-size="16">0.7</text>
<line x1="53.25" y1="80.4" x2="58.75" y2="80.4" stroke="#606060" stroke-width="1.2"/>
<text x="49.7" y="87.2" text-anchor="end" font-size="16">0.8</text>
<line x1="53.25" y1="44.0" x2="58.75" y2="44.0" stroke="#606060" stroke-width="1.2"/>
<text x="49.7" y="50.8" text-anchor="end" font-size="16">0.9</text>
<line x1="53.25" y1="7.6" x2="58.75" y2="7.6" stroke="#606060" stroke-width="1.2"/>
<path d="M44.80,2.30 L46.40,2.30 L46.40,13.50 L44.80,13.50 L44.80,5.70 L41.90,5.90 L41.90,4.70 Q44.20,4.50 44.80,2.30 Z" fill="#000"/>
<line x1="53.2" y1="371.5" x2="53.2" y2="366.0" stroke="#606060" stroke-width="1.2"/>
<text x="53.2" y="391" text-anchor="middle" font-size="16">3075</text>
<line x1="190.7" y1="371.5" x2="190.7" y2="366.0" stroke="#606060" stroke-width="1.2"/>
<text x="190.7" y="391" text-anchor="middle" font-size="16">3080</text>
<line x1="328.1" y1="371.5" x2="328.1" y2="366.0" stroke="#606060" stroke-width="1.2"/>
<text x="328.1" y="391" text-anchor="middle" font-size="16">3085</text>
<line x1="465.4" y1="371.5" x2="465.4" y2="366.0" stroke="#606060" stroke-width="1.2"/>
<text x="465.4" y="391" text-anchor="middle" font-size="16">3090</text>
<line x1="602.9" y1="371.5" x2="602.9" y2="366.0" stroke="#606060" stroke-width="1.2"/>
<text x="602.9" y="391" text-anchor="middle" font-size="16">3095</text>
<text x="328" y="409.2" text-anchor="middle" font-size="18"><tspan font-family="Liberation Serif, serif" font-size="19.5">ω</tspan>, meV</text>
<text transform="translate(17,190) rotate(-90)" text-anchor="middle" font-size="18"><tspan font-size="20">σ</tspan>, arb.units</text>
<line x1="149" y1="183.5" x2="256" y2="183.5" stroke="#7c7c7c" stroke-width="1.1"/>
<path d="M265,183.5 L251.2,178.6 L255.5,183.5 L251.2,188.6 Z" fill="#808080"/>
<line x1="475.7" y1="183.5" x2="400" y2="183.5" stroke="#7c7c7c" stroke-width="1.1"/>
<path d="M391.2,183.5 L405,178.6 L400.7,183.5 L405,188.6 Z" fill="#808080"/>
<text x="480.5" y="186.5" font-size="19" fill="#ff0000"><tspan font-family="Liberation Serif, serif">Ω</tspan><tspan font-size="13.8" dy="9.4">R</tspan><tspan dy="-9.4">≈</tspan></text><text x="519.6" y="186.6" font-size="18.6" fill="#ff0000">4 meV</text>
<text x="519" y="53.0" font-size="18.5">RPAE</text>
<path d="M510.5,39.4 Q505.9,47.6 510.5,55.8" fill="none" stroke="#a94d08" stroke-width="2.0"/>
<path d="M512.6,39.2 Q507.6,47.7 512.6,56.1" fill="none" stroke="#dc8510" stroke-width="2.0"/>
<path d="M515.9,38.3 Q509.5,46.8 515.9,55.2" fill="none" stroke="#fff200" stroke-width="2.0"/>
<path d="M572.3,39.1 Q580.1,47.7 572.3,56.3" fill="none" stroke="#fff200" stroke-width="2.0"/>
<path d="M575.5,38.7 Q580.9,47.5 575.5,56.3" fill="none" stroke="#dc8510" stroke-width="2.0"/>
<path d="M578.2,39.1 Q584.6,47.9 578.2,56.6" fill="none" stroke="#a94d08" stroke-width="2.0"/>
</svg>
</body></html>
